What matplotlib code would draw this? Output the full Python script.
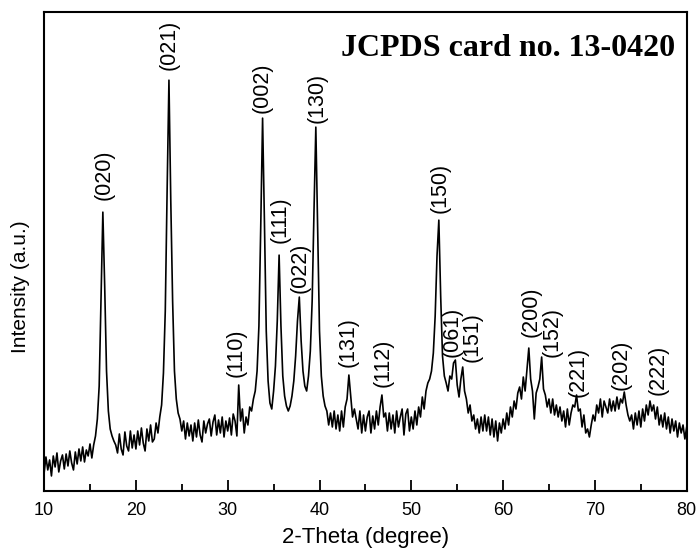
import numpy as np
import matplotlib
matplotlib.use('Agg')
import matplotlib.pyplot as plt
from matplotlib.ticker import MultipleLocator

# intensity, 10 to 80 degrees in 0.2 degree steps
intensity = [
    18, 34, 21, 31, 15, 35, 24, 38, 19, 30,
    36, 22, 37, 25, 40, 28, 21, 39, 27, 42,
    30, 44, 29, 41, 35, 47, 33, 46, 55, 72,
    105, 190, 279, 205, 120, 80, 62, 55, 50, 46,
    38, 57, 42, 36, 59, 45, 40, 60, 43, 56,
    42, 60, 46, 63, 48, 40, 62, 50, 66, 49,
    52, 68, 58, 74, 86, 118, 180, 300, 411, 290,
    190, 120, 92, 78, 72, 60, 70, 52, 68, 55,
    66, 50, 68, 54, 71, 56, 49, 70, 58, 67,
    72, 55, 69, 76, 56, 71, 58, 74, 54, 70,
    60, 73, 56, 77, 70, 55, 106, 70, 82, 58,
    74, 66, 84, 80, 92, 100, 120, 165, 265, 373,
    270, 160, 110, 88, 82, 100, 125, 170, 236, 165,
    115, 95, 85, 80, 85, 95, 110, 135, 170, 194,
    150, 120, 105, 100, 115, 140, 190, 280, 364, 260,
    160, 115, 95, 85, 80, 66, 78, 64, 80, 62,
    76, 60, 80, 64, 84, 92, 116, 95, 74, 82,
    72, 62, 80, 58, 76, 60, 74, 80, 58, 75,
    62, 80, 66, 84, 96, 74, 78, 60, 78, 62,
    76, 58, 80, 64, 74, 82, 56, 77, 82, 60,
    74, 62, 80, 66, 84, 74, 94, 82, 100, 108,
    112, 120, 138, 175, 235, 271, 195, 135, 115, 108,
    100, 115, 112, 128, 131, 106, 94, 112, 124, 100,
    92, 78, 86, 70, 76, 62, 72, 58, 74, 60,
    76, 60, 74, 56, 72, 54, 70, 50, 68, 58,
    72, 62, 78, 66, 84, 74, 90, 82, 98, 104,
    92, 114, 100, 122, 143, 112, 100, 72, 98, 104,
    112, 134, 102, 96, 84, 92, 78, 92, 76, 86,
    74, 84, 70, 80, 64, 82, 66, 78, 86, 84,
    96, 80, 82, 64, 76, 58, 62, 54, 66, 76,
    70, 86, 78, 92, 74, 90, 84, 78, 92, 80,
    90, 80, 94, 82, 92, 88, 99, 86, 76, 70,
    76, 62, 78, 66, 80, 64, 82, 70, 86, 76,
    90, 80, 86, 72, 84, 66, 76, 64, 78, 62,
    74, 58, 72, 60, 70, 54, 68, 58, 66, 52,
    64,
]
two_theta = np.linspace(10, 80, len(intensity))

hkl = ['(020)', '(021)', '(110)', '(002)', '(111)', '(022)', '(130)', '(131)', '(112)',
       '(150)', '(061)', '(151)', '(200)', '(152)', '(221)', '(202)', '(222)']
hkl_x = [16.5, 23.6, 30.9, 33.7, 35.7, 37.9, 39.7, 43.1, 46.9,
         53.1, 54.5, 56.6, 63.1, 65.3, 68.2, 72.9, 76.9]
hkl_y = [291, 421, 114, 378, 248, 198, 368, 124, 104,
         278, 134, 129, 154, 134, 94, 101, 96]

plt.rcParams['font.family'] = ['Liberation Sans', 'DejaVu Sans']

fig = plt.figure(figsize=(7, 5.56), dpi=100)
ax = fig.add_axes([0.063, 0.117, 0.918, 0.861])

ax.plot(two_theta, intensity, color='black', lw=1.2)

for lab, x, y in zip(hkl, hkl_x, hkl_y):
    ax.text(x, y, lab, rotation=90, ha='center', va='bottom', fontsize=15.5)

ax.text(0.982, 0.955, 'JCPDS card no. 13-0420', transform=ax.transAxes,
        ha='right', va='top', fontsize=23, fontweight='bold', family='Liberation Serif')

ax.set_xlim(10, 80)
ax.set_ylim(0, 479)
ax.set_yticks([])
ax.xaxis.set_major_locator(MultipleLocator(10))
ax.xaxis.set_minor_locator(MultipleLocator(5))
ax.tick_params(axis='x', which='major', direction='in', length=8, width=1.3, labelsize=13, pad=8)
ax.tick_params(axis='x', which='minor', direction='in', length=5, width=1.3)
for s in ax.spines.values():
    s.set_linewidth(1.5)

ax.set_xlabel('2-Theta (degree)', fontsize=16, labelpad=6)
ax.set_ylabel('Intensity (a.u.)', fontsize=15)
ax.yaxis.set_label_coords(-0.022, 0.426)

fig.savefig('out.png', dpi=100)
